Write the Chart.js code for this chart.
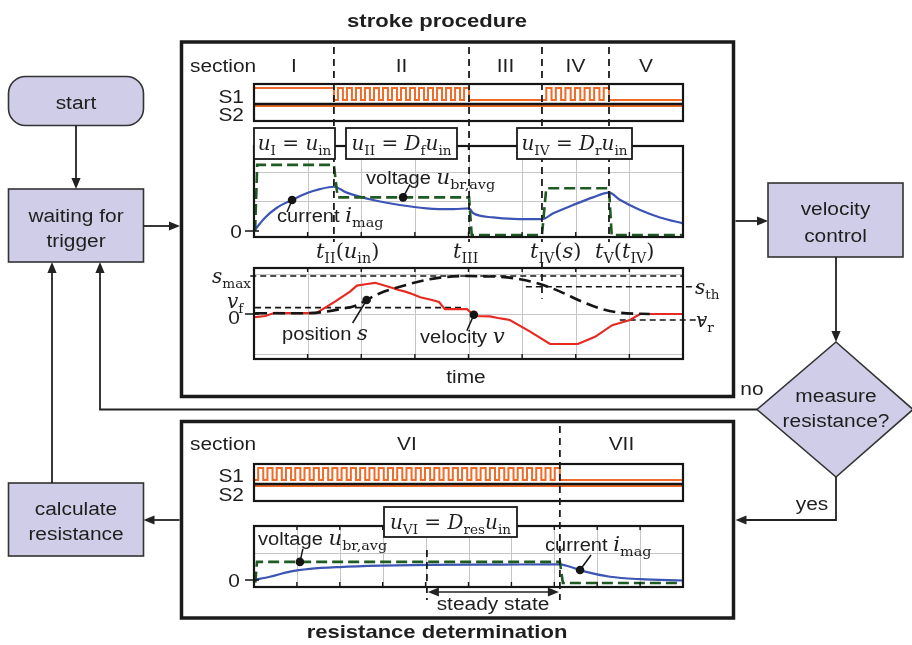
<!DOCTYPE html>
<html><head><meta charset="utf-8">
<script src="https://cdn.jsdelivr.net/npm/chart.js@4.4.1/dist/chart.umd.min.js"></script>
<style>
html,body{margin:0;padding:0;background:#fff;}
#root{position:relative;width:912px;height:645px;overflow:hidden;background:#fff;}
canvas{position:absolute;}
svg{position:absolute;left:0;top:0;}
</style></head><body><div id="root"></div>
<script>
// ================= DATA =================
// stroke procedure, time axis in grid divisions (0..8)
const strokeSections = ['I', 'II', 'III', 'IV', 'V'];
const strokeBounds = [0, 1.49, 4.01, 5.37, 6.62, 8];      // start, t_II, t_III, t_IV, t_V, end
const s1Stroke = ['high', 'pwm', 'low', 'pwm', 'low'];
const s1StrokePulses = [0, 15, 0, 7, 0];
const s2Stroke = ['high', 'high', 'high', 'high', 'high'];
// averaged bridge voltage u_br,avg
const uBrT = [0.02, 0.06, 1.49, 1.56, 4.01, 4.06, 5.37, 5.45, 6.62, 6.67, 8];
const uBrV = [0.0, 2.24, 2.24, 1.14, 1.14, -0.14, -0.14, 1.45, 1.45, -0.14, -0.14];
// magnet current i_mag
const iMagT = [0, 0.2, 0.42, 0.71, 0.98, 1.23, 1.49, 1.73, 2.22, 2.72, 3.22, 3.72, 4.01, 4.09, 4.46, 4.83, 5.37, 5.58, 5.95, 6.32, 6.62, 6.83, 7.2, 7.57, 8];
const iMagV = [0, 0.44, 0.78, 1.05, 1.28, 1.42, 1.50, 1.30, 1.05, 0.88, 0.77, 0.74, 0.77, 0.60, 0.46, 0.41, 0.40, 0.60, 0.88, 1.14, 1.30, 1.05, 0.71, 0.46, 0.26];
// position s
const posT = [0.02, 0.86, 1.23, 1.6, 1.92, 2.1, 2.35, 2.72, 3.1, 3.47, 3.97, 4.3, 4.59, 4.96, 5.33, 5.71, 6.08, 6.45, 6.83, 7.38];
const posV = [0.02, 0.02, 0.04, 0.12, 0.22, 0.35, 0.52, 0.68, 0.82, 0.91, 0.95, 0.94, 0.93, 0.87, 0.75, 0.56, 0.33, 0.14, 0.03, 0.0];
// velocity v
const velT = [0.02, 0.21, 0.39, 0.58, 0.86, 1.16, 1.51, 1.79, 1.92, 2.11, 2.26, 2.54, 2.7, 2.82, 2.95, 3.1, 3.32, 3.45, 3.56, 3.97, 4.12, 4.4, 4.55, 4.68, 4.77, 5.15, 5.52, 6.04, 6.36, 6.68, 7.01, 7.2, 8];
const velV = [-0.08, -0.05, 0.03, 0.02, 0.02, 0.02, 0.31, 0.56, 0.71, 0.75, 0.78, 0.67, 0.6, 0.56, 0.5, 0.42, 0.35, 0.3, 0.12, 0.12, -0.05, -0.06, -0.1, -0.13, -0.15, -0.44, -0.75, -0.75, -0.57, -0.28, -0.15, 0.0, 0.0];
const sMax = 0.95, vF = 0.16, sTh = 0.68, vR = -0.15;
// resistance determination, time axis in grid divisions (0..10)
const resSections = ['VI', 'VII'];
const resBounds = [0, 7.13, 10];
const steadyStart = 4.03;
const s1Res = ['pwm', 'low'];
const s1ResPulses = [33, 0];
const s2Res = ['high', 'high'];
const uBrResT = [0.03, 0.07, 7.13, 7.2, 10];
const uBrResV = [-0.1, 0.67, 0.67, -0.11, -0.11];
const iMagResT = [0, 0.37, 0.84, 1.3, 2.0, 2.94, 4.1, 5.73, 7.13, 7.37, 7.72, 8.3, 9.0, 10];
const iMagResV = [0, 0.12, 0.31, 0.41, 0.48, 0.53, 0.56, 0.57, 0.58, 0.49, 0.31, 0.12, 0.03, -0.02];

// ================= STYLE / LAYOUT =================
const SANS = "'Liberation Sans', Arial, Helvetica, sans-serif";
const SERIF = "'DejaVu Serif', 'Liberation Serif', serif";
const ORANGE = '#f06a28', BLUE = '#3c55b4', GREEN = '#1f5a22', RED = '#e62a22', BLACK = '#151515';
const FILL = '#cfcde7', EDGE = '#333';
const L = {
  strokeStrip: {x: 254, y: 84, w: 429, h: 37},
  strokeUI: {x: 254, y: 146, w: 429, h: 91},
  strokePos: {x: 254, y: 268, w: 429, h: 91},
  resStrip: {x: 254, y: 464, w: 429, h: 37},
  resUI: {x: 254, y: 526, w: 429, h: 61}
};
const LEVEL = {s1: {high: 33, low: 21}, s2: {high: 15, low: 3}, sep: 17};

const root = document.getElementById('root');
const zip = (t, v) => t.map((x, i) => ({x, y: v[i]}));

function buildSwitch(bounds, states, pulses, lv) {
  const pts = [];
  for (let i = 0; i < states.length; i++) {
    const a = bounds[i], b = bounds[i + 1];
    if (states[i] === 'pwm') {
      const p = (b - a) / pulses[i];
      for (let k = 0; k < pulses[i]; k++) {
        const s = a + k * p, m = s + p * 0.45;
        pts.push({x: s, y: lv.low}, {x: m, y: lv.low}, {x: m, y: lv.high}, {x: s + p, y: lv.high});
      }
    } else {
      pts.push({x: a, y: lv[states[i]]}, {x: b, y: lv[states[i]]});
    }
  }
  return pts;
}

const decoPlugin = {
  id: 'deco',
  beforeDatasetsDraw(chart) {
    const d = chart.canvas._deco; if (!d) return;
    const {ctx, chartArea: a} = chart, sx = chart.scales.x, sy = chart.scales.y;
    ctx.save();
    ctx.strokeStyle = '#c6c6c6'; ctx.lineWidth = 1;
    ctx.beginPath();
    (d.gridX || []).forEach(v => { const p = Math.round(sx.getPixelForValue(v)) + 0.5; ctx.moveTo(p, a.top); ctx.lineTo(p, a.bottom); });
    (d.gridY || []).forEach(v => { const p = Math.round(sy.getPixelForValue(v)) + 0.5; ctx.moveTo(a.left, p); ctx.lineTo(a.right, p); });
    ctx.stroke();
    ctx.strokeStyle = BLACK; ctx.lineWidth = 1.6; ctx.setLineDash([6, 4]);
    (d.refs || []).forEach(r => {
      const p = sy.getPixelForValue(r.v);
      ctx.beginPath(); ctx.moveTo(sx.getPixelForValue(r.from), p); ctx.lineTo(sx.getPixelForValue(r.to), p); ctx.stroke();
    });
    ctx.restore();
  },
  afterDatasetsDraw(chart) {
    const d = chart.canvas._deco; if (!d) return;
    const {ctx, chartArea: a} = chart, sx = chart.scales.x, sy = chart.scales.y;
    ctx.save();
    ctx.strokeStyle = BLACK; ctx.lineWidth = 1.4;
    ctx.beginPath();
    (d.ticksX || []).forEach(v => { const p = sx.getPixelForValue(v); ctx.moveTo(p, a.bottom); ctx.lineTo(p, a.bottom - 5); ctx.moveTo(p, a.top); ctx.lineTo(p, a.top + 4); });
    if (d.zeroTick) { const p = sy.getPixelForValue(0); ctx.moveTo(a.left - 9, p); ctx.lineTo(a.left + 5, p); }
    ctx.stroke();
    if (d.sep !== undefined) {
      ctx.lineWidth = 2.6; ctx.beginPath();
      const p = sy.getPixelForValue(d.sep); ctx.moveTo(a.left, p); ctx.lineTo(a.right, p); ctx.stroke();
    }
    ctx.lineWidth = 2.2; ctx.strokeRect(a.left, a.top, a.width, a.height);
    (d.dots || []).forEach(o => {
      const px = sx.getPixelForValue(o.x), py = sy.getPixelForValue(o.y);
      ctx.lineWidth = 1.5; ctx.beginPath(); ctx.moveTo(px, py); ctx.lineTo(px + o.dx, py + o.dy); ctx.stroke();
      ctx.fillStyle = BLACK; ctx.beginPath(); ctx.arc(px, py, 4.3, 0, Math.PI * 2); ctx.fill();
    });
    ctx.restore();
  }
};
Chart.register(decoPlugin);

function makeChart(area, xr, yr, datasets, deco) {
  const pad = 26;
  const cv = document.createElement('canvas');
  const W = area.w + 2 * pad, H = area.h + 2 * pad;
  cv.width = W; cv.height = H;
  Object.assign(cv.style, {left: (area.x - pad) + 'px', top: (area.y - pad) + 'px', width: W + 'px', height: H + 'px'});
  cv._deco = deco;
  root.appendChild(cv);
  return new Chart(cv.getContext('2d'), {
    type: 'line',
    data: {datasets: datasets.map(ds => Object.assign({pointRadius: 0, clip: false, fill: false, tension: 0}, ds))},
    options: {
      responsive: false, animation: false, devicePixelRatio: 1, events: [],
      layout: {padding: pad},
      scales: {
        x: {type: 'linear', min: xr[0], max: xr[1], display: false},
        y: {type: 'linear', min: yr[0], max: yr[1], display: false}
      },
      plugins: {legend: {display: false}, tooltip: {enabled: false}}
    }
  });
}

const range = (a, b) => { const r = []; for (let i = a; i <= b; i++) r.push(i); return r; };

// ---- stroke procedure charts
const chStrip = makeChart(L.strokeStrip, [0, 8], [0, 37], [
  {data: buildSwitch(strokeBounds, s1Stroke, s1StrokePulses, LEVEL.s1), borderColor: ORANGE, borderWidth: 2},
  {data: buildSwitch(strokeBounds, s2Stroke, [], LEVEL.s2), borderColor: ORANGE, borderWidth: 2.2}
], {sep: LEVEL.sep});

const chUI = makeChart(L.strokeUI, [0, 8], [-0.2034, 2.881], [
  {data: zip(uBrT, uBrV), borderColor: GREEN, borderWidth: 2.6, borderDash: [11, 5]},
  {data: zip(iMagT, iMagV), borderColor: BLUE, borderWidth: 2.2, cubicInterpolationMode: 'monotone'}
], {gridX: range(1, 7), gridY: [1, 2], ticksX: range(1, 7), zeroTick: true,
    dots: [{x: 2.78, y: 1.14, dx: 7, dy: -13}, {x: 0.71, y: 1.05, dx: -5, dy: 12}]});

const chPos = makeChart(L.strokePos, [0, 8], [-1.125, 1.15], [
  {data: zip(posT, posV), borderColor: BLACK, borderWidth: 2.6, borderDash: [12, 6], cubicInterpolationMode: 'monotone'},
  {data: zip(velT, velV), borderColor: RED, borderWidth: 2.2}
], {gridX: range(1, 7), gridY: [-1, 0, 1], ticksX: range(1, 7), zeroTick: true,
    refs: [{v: sMax, from: -0.07, to: 8}, {v: vF, from: 0.02, to: 3.86}, {v: sTh, from: 5.07, to: 8.3}, {v: vR, from: 6.82, to: 8.4}],
    dots: [{x: 2.1, y: 0.35, dx: -14, dy: 23}, {x: 4.1, y: -0.02, dx: -7, dy: 16}]});

// ---- resistance determination charts
const chRStrip = makeChart(L.resStrip, [0, 10], [0, 37], [
  {data: buildSwitch(resBounds, s1Res, s1ResPulses, LEVEL.s1), borderColor: ORANGE, borderWidth: 2},
  {data: buildSwitch(resBounds, s2Res, [], LEVEL.s2), borderColor: ORANGE, borderWidth: 2.2}
], {sep: LEVEL.sep});

const chRUI = makeChart(L.resUI, [0, 10], [-0.26, 2.0], [
  {data: zip(uBrResT, uBrResV), borderColor: GREEN, borderWidth: 2.6, borderDash: [11, 5]},
  {data: zip(iMagResT, iMagResV), borderColor: BLUE, borderWidth: 2.2, cubicInterpolationMode: 'monotone'}
], {gridX: range(1, 9), gridY: [1], ticksX: range(1, 9), zeroTick: true,
    dots: [{x: 1.07, y: 0.67, dx: 3, dy: -13}, {x: 7.6, y: 0.37, dx: 11, dy: -15}]});

// ================= OVERLAY (flowchart, frames, labels) =================
const NS = 'http://www.w3.org/2000/svg';
const svg = document.createElementNS(NS, 'svg');
svg.setAttribute('width', 912); svg.setAttribute('height', 645);
root.appendChild(svg);
function el(tag, attrs, parent) {
  const e = document.createElementNS(NS, tag);
  for (const k in attrs) e.setAttribute(k, attrs[k]);
  (parent || svg).appendChild(e); return e;
}
function line(x1, y1, x2, y2, extra) {
  return el('line', Object.assign({x1, y1, x2, y2, stroke: '#222', 'stroke-width': 1.8}, extra || {}));
}
function arrow(x, y, dir) {
  const l = 11, w = 4.6; let p;
  if (dir === 'down') p = [[x, y], [x - w, y - l], [x + w, y - l]];
  if (dir === 'up') p = [[x, y], [x - w, y + l], [x + w, y + l]];
  if (dir === 'right') p = [[x, y], [x - l, y - w], [x - l, y + w]];
  if (dir === 'left') p = [[x, y], [x + l, y - w], [x + l, y + w]];
  el('polygon', {points: p.map(q => q.join(',')).join(' '), fill: '#222'});
}
function txt(x, y, str, o) {
  o = Object.assign({size: 19, anchor: 'middle', weight: 'normal', sx: 1.1}, o || {});
  const t = el('text', {transform: `translate(${x},${y}) scale(${o.sx},1)`, x: 0, y: 0, 'font-family': SANS,
    'font-size': o.size, 'font-weight': o.weight, 'text-anchor': o.anchor, fill: '#1e1e1e'});
  t.textContent = str; return t;
}
function mtxt(x, y, parts, o) {
  o = Object.assign({size: 20, anchor: 'middle', sx: 1}, o || {});
  const t = el('text', {transform: `translate(${x},${y}) scale(${o.sx},1)`, x: 0, y: 0, 'text-anchor': o.anchor, fill: '#1e1e1e'});
  t.setAttributeNS('http://www.w3.org/XML/1998/namespace', 'xml:space', 'preserve');
  let shift = 0;
  parts.forEach(([s, k]) => {
    const sub = k === 's' || k === 'si';
    const want = sub ? o.size * 0.26 : 0;
    const ts = el('tspan', {}, t);
    if (want !== shift) ts.setAttribute('dy', want - shift);
    shift = want;
    if (k === 'sans') { ts.setAttribute('font-family', SANS); ts.setAttribute('font-size', 19); }
    else {
      ts.setAttribute('font-family', SERIF);
      ts.setAttribute('font-size', sub ? o.size * 0.68 : o.size);
      if (k === 'i' || k === 'si') ts.setAttribute('font-style', 'italic');
    }
    ts.textContent = s;
  });
  return t;
}
const PX = (ch, t) => ch.canvas.offsetLeft + ch.scales.x.getPixelForValue(t);
const PY = (ch, v) => ch.canvas.offsetTop + ch.scales.y.getPixelForValue(v);

// ---- outer frames
el('rect', {x: 181.5, y: 42, width: 552, height: 354.5, fill: 'none', stroke: '#1a1a1a', 'stroke-width': 3.5});
el('rect', {x: 181.5, y: 421.5, width: 552, height: 196.5, fill: 'none', stroke: '#1a1a1a', 'stroke-width': 3.5});

// ---- flowchart
const box = (x, y, w, h, rx) => el('rect', {x, y, width: w, height: h, rx: rx || 0, fill: FILL, stroke: EDGE, 'stroke-width': 1.6});
box(8.5, 76.5, 135, 49, 17);
line(76, 125.5, 76, 180); arrow(76, 189, 'down');
box(8.5, 189, 135, 73);
line(143.5, 226, 171, 226); arrow(180, 226, 'right');
line(735.5, 221, 759, 221); arrow(768, 221, 'right');
box(768, 183, 135, 74);
line(836, 257, 836, 333); arrow(836, 342, 'down');
el('polygon', {points: '836,342 913,409.5 836,477 757,409.5', fill: FILL, stroke: EDGE, 'stroke-width': 1.6});
el('polyline', {points: '757,409.5 100,409.5 100,271', fill: 'none', stroke: '#222', 'stroke-width': 1.8}); arrow(100, 262, 'up');
el('polyline', {points: '836,477 836,520 744,520', fill: 'none', stroke: '#222', 'stroke-width': 1.8}); arrow(735.5, 520, 'left');
line(179.5, 520, 152, 520); arrow(143.5, 520, 'left');
box(8.5, 483, 135, 73);
line(52, 483, 52, 271); arrow(52, 262, 'up');

// ---- section dividers (dashed)
const dash = {stroke: '#1a1a1a', 'stroke-width': 1.8, 'stroke-dasharray': '7,5'};
strokeBounds.slice(1, -1).forEach((t, i) => {
  const x = PX(chUI, t);
  line(x, 47, x, 242, dash);
  if (i === 2) line(x, 262, x, PY(chPos, sTh) + 12, dash);
});
resBounds.slice(1, -1).forEach(t => { const x = PX(chRUI, t); line(x, 426, x, 600, dash); });
line(PX(chRUI, steadyStart), 550, PX(chRUI, steadyStart), 600, dash);
// steady state arrow
{
  const xa = PX(chRUI, steadyStart), xb = PX(chRUI, resBounds[1]);
  line(xa + 8, 592, xb - 8, 592, {'stroke-width': 1.6});
  arrow(xa + 1, 592, 'left'); arrow(xb - 1, 592, 'right');
}

// ---- duty-cycle label boxes
const lbox = (x, y, w, h) => el('rect', {x, y, width: w, height: h, fill: '#fff', stroke: '#1a1a1a', 'stroke-width': 1.8});
lbox(254, 128, 81, 31); lbox(346, 128, 111, 31); lbox(517, 128, 115, 31); lbox(384, 507, 133, 30);
mtxt(294.5, 150, [['u', 'i'], ['I', 's'], [' = ', 'r'], ['u', 'i'], ['in', 's']]);
mtxt(401.5, 150, [['u', 'i'], ['II', 's'], [' = ', 'r'], ['D', 'i'], ['f', 's'], ['u', 'i'], ['in', 's']]);
mtxt(574.5, 150, [['u', 'i'], ['IV', 's'], [' = ', 'r'], ['D', 'i'], ['r', 's'], ['u', 'i'], ['in', 's']]);
mtxt(450.5, 529, [['u', 'i'], ['VI', 's'], [' = ', 'r'], ['D', 'i'], ['res', 's'], ['u', 'i'], ['in', 's']]);

// ---- titles and texts
txt(437, 27, 'stroke procedure', {weight: 'bold', sx: 1.16});
txt(437, 638, 'resistance determination', {weight: 'bold', sx: 1.16});
txt(190, 72, 'section', {anchor: 'start'});
strokeSections.forEach((s, i) => txt((PX(chUI, strokeBounds[i]) + PX(chUI, strokeBounds[i + 1])) / 2, 72, s));
txt(244, 103, 'S1', {anchor: 'end'}); txt(244, 121, 'S2', {anchor: 'end'});
txt(242, 238, '0', {anchor: 'end'});
mtxt(366, 184, [['voltage ', 'sans'], ['u', 'i'], ['br,avg', 's']], {anchor: 'start', sx: 1.06});
mtxt(277, 222, [['current ', 'sans'], ['i', 'i'], ['mag', 's']], {anchor: 'start', sx: 1.06});
const tLab = [
  [[['t', 'i'], ['II', 's'], ['(', 'r'], ['u', 'i'], ['in', 's'], [')', 'r']], -18],
  [[['t', 'i'], ['III', 's']], -16],
  [[['t', 'i'], ['IV', 's'], ['(', 'r'], ['s', 'i'], [')', 'r']], -12],
  [[['t', 'i'], ['V', 's'], ['(', 'r'], ['t', 'i'], ['IV', 's'], [')', 'r']], -14]
];
tLab.forEach(([p, off], i) => mtxt(PX(chUI, strokeBounds[i + 1]) + off, 258, p, {anchor: 'start', size: 21}));
mtxt(251, 283, [['s', 'i'], ['max', 's']], {anchor: 'end'});
mtxt(227, 308, [['v', 'i'], ['f', 's']], {anchor: 'start'});
txt(234, 324, '0');
mtxt(695, 294, [['s', 'i'], ['th', 's']], {anchor: 'start'});
mtxt(696, 327, [['v', 'i'], ['r', 's']], {anchor: 'start'});
mtxt(282, 340, [['position ', 'sans'], ['s', 'i']], {anchor: 'start', sx: 1.06});
mtxt(420, 343, [['velocity ', 'sans'], ['v', 'i']], {anchor: 'start', sx: 1.06});
txt(466, 383, 'time');

txt(190, 450, 'section', {anchor: 'start'});
resSections.forEach((s, i) => txt((PX(chRUI, resBounds[i]) + PX(chRUI, resBounds[i + 1])) / 2, 450, s));
txt(244, 482, 'S1', {anchor: 'end'}); txt(244, 501, 'S2', {anchor: 'end'});
txt(240, 587, '0', {anchor: 'end'});
mtxt(258, 545, [['voltage ', 'sans'], ['u', 'i'], ['br,avg', 's']], {anchor: 'start', sx: 1.06});
mtxt(545, 551, [['current ', 'sans'], ['i', 'i'], ['mag', 's']], {anchor: 'start', sx: 1.06});
txt(493, 610, 'steady state');

// flowchart texts
txt(76, 109, 'start');
txt(76, 222, 'waiting for'); txt(76, 247, 'trigger');
txt(835.5, 215, 'velocity'); txt(835.5, 242, 'control');
txt(836, 402, 'measure'); txt(836, 427, 'resistance?');
txt(752, 395, 'no');
txt(812, 510, 'yes');
txt(76, 515, 'calculate'); txt(76, 540, 'resistance');
</script></body></html>
